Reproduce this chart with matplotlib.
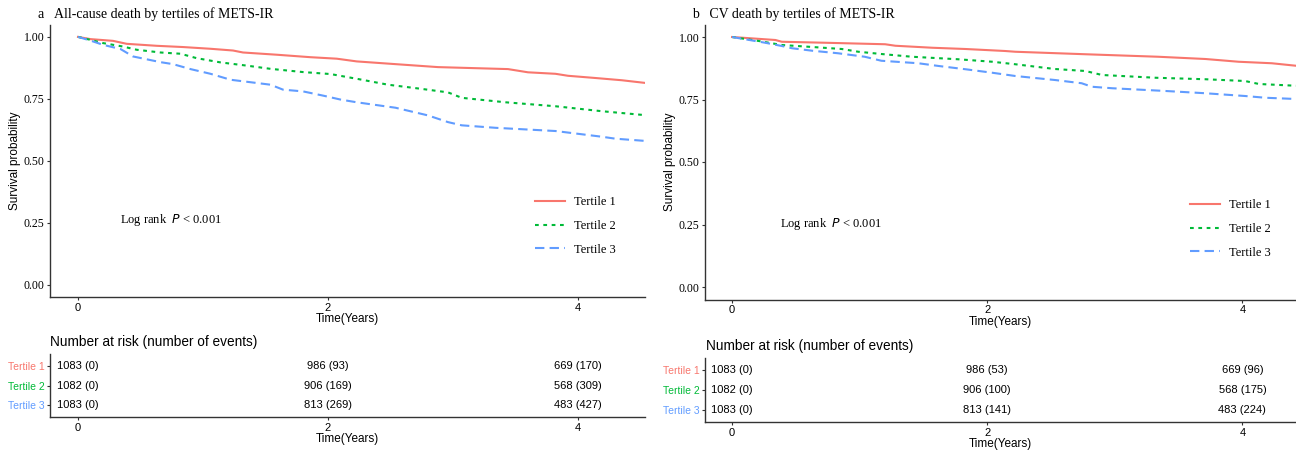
import numpy as np
import matplotlib.pyplot as plt
from matplotlib.lines import Line2D

# ---- data ----
groups = ["Tertile 1", "Tertile 2", "Tertile 3"]
colors = ["#F8766D", "#00BA38", "#619CFF"]
styles = ["-", (0, (1.8, 2.2)), (0, (4.5, 2.5))]

# all-cause death
a_t1_time = [0, 0.10, 0.28, 0.39, 0.63, 0.84, 1.06, 1.24, 1.32, 1.59, 1.86, 2.07, 2.23, 2.54, 2.88, 3.44, 3.60, 3.82, 3.92, 4.14, 4.35, 4.54]
a_t1_surv = [1.0, 0.991, 0.984, 0.972, 0.964, 0.959, 0.952, 0.945, 0.937, 0.928, 0.918, 0.912, 0.901, 0.890, 0.878, 0.870, 0.857, 0.851, 0.843, 0.834, 0.825, 0.814]
a_t2_time = [0, 0.10, 0.20, 0.36, 0.47, 0.66, 0.82, 0.95, 1.14, 1.35, 1.54, 1.80, 2.02, 2.24, 2.48, 2.75, 2.96, 3.07, 3.42, 3.82, 4.19, 4.54]
a_t2_surv = [1.0, 0.988, 0.975, 0.961, 0.948, 0.937, 0.932, 0.914, 0.897, 0.884, 0.871, 0.858, 0.850, 0.830, 0.807, 0.790, 0.776, 0.754, 0.736, 0.720, 0.700, 0.684]
a_t3_time = [0, 0.10, 0.20, 0.34, 0.44, 0.66, 0.76, 0.90, 1.06, 1.22, 1.38, 1.54, 1.64, 1.80, 1.96, 2.10, 2.23, 2.54, 2.80, 2.96, 3.07, 3.34, 3.82, 4.19, 4.30, 4.54]
a_t3_surv = [1.0, 0.985, 0.968, 0.951, 0.921, 0.898, 0.890, 0.870, 0.851, 0.827, 0.817, 0.807, 0.787, 0.780, 0.763, 0.747, 0.736, 0.714, 0.683, 0.656, 0.643, 0.633, 0.620, 0.597, 0.589, 0.580]

# CV death
b_t1_time = [0, 0.34, 0.39, 0.73, 1.20, 1.28, 1.57, 1.83, 2.14, 2.22, 2.77, 3.34, 3.71, 3.97, 4.23, 4.42]
b_t1_surv = [1.0, 0.988, 0.981, 0.977, 0.971, 0.965, 0.957, 0.952, 0.944, 0.941, 0.931, 0.921, 0.912, 0.901, 0.895, 0.885]
b_t2_time = [0, 0.21, 0.39, 0.60, 0.86, 0.99, 1.17, 1.41, 1.77, 2.04, 2.22, 2.53, 2.77, 2.90, 3.32, 3.71, 4.02, 4.13, 4.42]
b_t2_surv = [1.0, 0.984, 0.968, 0.961, 0.952, 0.941, 0.932, 0.921, 0.911, 0.901, 0.891, 0.872, 0.864, 0.848, 0.837, 0.831, 0.824, 0.812, 0.805]
b_t3_time = [0, 0.26, 0.39, 0.47, 0.63, 0.83, 1.04, 1.17, 1.46, 1.62, 1.83, 2.04, 2.22, 2.53, 2.74, 2.82, 2.98, 3.40, 3.71, 4.02, 4.18, 4.42]
b_t3_surv = [1.0, 0.977, 0.964, 0.955, 0.945, 0.935, 0.921, 0.905, 0.895, 0.884, 0.871, 0.857, 0.844, 0.828, 0.815, 0.801, 0.795, 0.784, 0.775, 0.764, 0.757, 0.752]

risk_times = [0, 2, 4]
a_risk = [["1083 (0)", "986 (93)", "669 (170)"],
          ["1082 (0)", "906 (169)", "568 (309)"],
          ["1083 (0)", "813 (269)", "483 (427)"]]
b_risk = [["1083 (0)", "986 (53)", "669 (96)"],
          ["1082 (0)", "906 (100)", "568 (175)"],
          ["1083 (0)", "813 (141)", "483 (224)"]]

SERIF = "Liberation Serif"
SANS = "Liberation Sans"
W, H = 1296, 453

fig = plt.figure(figsize=(W / 100, H / 100), dpi=100)


def px_axes(left, top, right, bottom):
    return fig.add_axes([left / W, 1 - bottom / H, (right - left) / W, (bottom - top) / H])


def style_axes(ax):
    for s in ["top", "right"]:
        ax.spines[s].set_visible(False)
    for s in ["left", "bottom"]:
        ax.spines[s].set_color("#333333")
        ax.spines[s].set_linewidth(1.0)
    ax.tick_params(length=2.5, width=0.8, color="#333333", pad=1.5)
    ax.set_facecolor("white")


def km_panel(box, tbox, xlim, curves, risk, title, title_x, logrank_xy, legend_xy, nar_xy):
    ax = px_axes(*box)
    style_axes(ax)
    for (tt, ss), c, ls in zip(curves, colors, styles):
        ax.plot(tt, ss, color=c, linestyle=ls, linewidth=1.5)
    ax.set_xlim(*xlim)
    ax.set_ylim(-0.05, 1.05)
    ax.set_xticks([0, 2, 4])
    ax.set_yticks([0, 0.25, 0.5, 0.75, 1.0])
    ax.set_yticklabels(["0.00", "0.25", "0.50", "0.75", "1.00"], family=SERIF, fontsize=8.5)
    ax.set_xticklabels(["0", "2", "4"], family=SANS, fontsize=8)
    ax.set_xlabel("Time(Years)", family=SANS, fontsize=8.5, labelpad=0.5)
    ax.set_ylabel("Survival probability", family=SANS, fontsize=8.5, labelpad=2)
    ax.text(logrank_xy[0], logrank_xy[1], "Log rank  $\\mathit{P}$ < 0.001", family=SERIF,
            fontsize=9, va="center", ha="left")
    fig.text(title_x / W, 1 - 14 / H, title, family=SERIF, fontsize=10, va="center", ha="left")

    handles = [Line2D([], [], color=c, linestyle=ls, linewidth=1.5) for c, ls in zip(colors, styles)]
    ax.legend(handles, groups, loc="upper left", frameon=False,
              bbox_to_anchor=(legend_xy[0] / W, 1 - legend_xy[1] / H),
              bbox_transform=fig.transFigure, borderpad=0, borderaxespad=0,
              handlelength=2.4, handletextpad=0.7, labelspacing=0.95,
              prop={"family": SERIF, "size": 9})

    # risk table
    tx = px_axes(*tbox)
    style_axes(tx)
    tx.set_xlim(*xlim)
    tx.set_ylim(0.4, 3.6)
    ypos = [3, 2, 1]
    for row, y in zip(risk, ypos):
        for t, s in zip(risk_times, row):
            tx.text(t, y, s, family=SANS, fontsize=8, ha="center", va="center")
    tx.set_yticks(ypos)
    tx.set_yticklabels(groups, family=SANS, fontsize=7.5)
    for lab, c in zip(tx.get_yticklabels(), colors):
        lab.set_color(c)
    tx.set_xticks([0, 2, 4])
    tx.set_xticklabels(["0", "2", "4"], family=SANS, fontsize=8)
    tx.set_xlabel("Time(Years)", family=SANS, fontsize=8.5, labelpad=0.5)
    fig.text(nar_xy[0] / W, 1 - nar_xy[1] / H, "Number at risk (number of events)",
             family=SANS, fontsize=9.8, va="center", ha="left")
    return ax, tx


km_panel((50, 24.5, 645, 297), (50, 354.3, 645, 417), (-0.224, 4.536),
         [(a_t1_time, a_t1_surv), (a_t2_time, a_t2_surv), (a_t3_time, a_t3_surv)],
         a_risk, "a   All-cause death by tertiles of METS-IR", 38,
         (0.336, 0.26), (535, 196), (50, 342))

km_panel((705, 24.5, 1296, 299.5), (705, 358, 1296, 422), (-0.212, 4.42),
         [(b_t1_time, b_t1_surv), (b_t2_time, b_t2_surv), (b_t3_time, b_t3_surv)],
         b_risk, "b   CV death by tertiles of METS-IR", 692,
         (0.376, 0.252), (1190, 199), (706, 346))

fig.savefig("out.png", dpi=100, facecolor="white")
